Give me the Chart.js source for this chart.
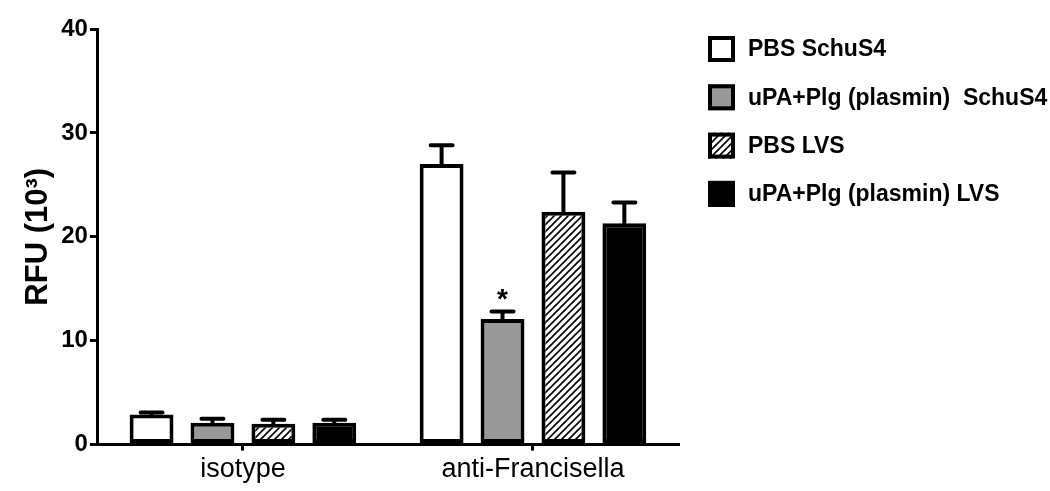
<!DOCTYPE html>
<html>
<head>
<meta charset="utf-8">
<script src="https://cdn.jsdelivr.net/npm/chart.js@4.4.0/dist/chart.umd.min.js"></script>
<style>
  html, body { margin: 0; padding: 0; background: #fff; }
  #wrap { width: 1050px; height: 491px; }
</style>
</head>
<body>
<div id="wrap"><canvas id="canvas"></canvas></div>
<script>
// data (RFU x 10^3)
const categories = ['isotype', 'anti-Francisella'];
const seriesNames = ['PBS SchuS4', 'uPA+Plg (plasmin)  SchuS4', 'PBS LVS', 'uPA+Plg (plasmin) LVS'];
const pbsSchu = [2.9, 27.0];
const plasminSchu = [2.1, 12.1];
const pbsLvs = [2.0, 22.4];
const plasminLvs = [2.1, 21.3];
// upper error (SEM)
const pbsSchuErr = [0.2, 1.8];
const plasminSchuErr = [0.4, 0.7];
const pbsLvsErr = [0.4, 3.8];
const plasminLvsErr = [0.3, 2.0];
const plasminSchuMarks = ['', '*'];
const yTicks = [0, 10, 20, 30, 40];

const FONT = 'Arial, "Liberation Sans", sans-serif';

function hatch() {
    const c = document.createElement('canvas');
    c.width = 7; c.height = 7;
    const g = c.getContext('2d');
    g.fillStyle = '#fff';
    g.fillRect(0, 0, 7, 7);
    g.strokeStyle = '#000';
    g.lineWidth = 1.6;
    g.beginPath();
    g.moveTo(-1, 8); g.lineTo(8, -1);
    g.moveTo(-1, 1); g.lineTo(1, -1);
    g.moveTo(6, 8); g.lineTo(8, 6);
    g.stroke();
    return g.createPattern(c, 'repeat');
}

const errorBars = {
    id: 'errorBars',
    afterDatasetsDraw(chart) {
        const ctx = chart.ctx;
        const y = chart.scales.y;
        chart.data.datasets.forEach((ds, i) => {
            const meta = chart.getDatasetMeta(i);
            meta.data.forEach((bar, j) => {
                const top = y.getPixelForValue(ds.data[j] + ds.errors[j]);
                ctx.save();
                ctx.strokeStyle = '#000';
                ctx.lineWidth = 4;
                ctx.lineCap = 'round';
                ctx.beginPath();
                ctx.moveTo(bar.x, bar.y);
                ctx.lineTo(bar.x, top);
                ctx.moveTo(bar.x - 11, top);
                ctx.lineTo(bar.x + 11, top);
                ctx.stroke();
                if (ds.marks && ds.marks[j]) {
                    ctx.fillStyle = '#000';
                    ctx.font = 'bold 28px ' + FONT;
                    ctx.textAlign = 'center';
                    ctx.textBaseline = 'alphabetic';
                    ctx.fillText(ds.marks[j], bar.x, top - 4);
                }
                ctx.restore();
            });
        });
    }
};

const sideLegend = {
    id: 'sideLegend',
    afterDraw(chart) {
        const ctx = chart.ctx;
        const x0 = chart.chartArea.right + 30;
        chart.data.datasets.forEach((ds, i) => {
            const cy = chart.chartArea.top + 20 + i * 48.3;
            ctx.save();
            ctx.fillStyle = ds.backgroundColor;
            ctx.fillRect(x0, cy - 13, 27, 26);
            ctx.strokeStyle = '#000';
            ctx.lineWidth = 4;
            ctx.strokeRect(x0 + 2, cy - 11, 23, 22);
            ctx.fillStyle = '#000';
            ctx.font = 'bold 23px ' + FONT;
            ctx.textBaseline = 'middle';
            ctx.fillText(ds.label, x0 + 40, cy + 1);
            ctx.restore();
        });
    }
};

const ctx = document.getElementById('canvas').getContext('2d');
const myChart = new Chart(ctx, {
    type: 'bar',
    data: {
        labels: categories,
        datasets: [
            { label: seriesNames[0], data: pbsSchu, errors: pbsSchuErr, backgroundColor: '#ffffff' },
            { label: seriesNames[1], data: plasminSchu, errors: plasminSchuErr, marks: plasminSchuMarks, backgroundColor: '#999999' },
            { label: seriesNames[2], data: pbsLvs, errors: pbsLvsErr, backgroundColor: hatch() },
            { label: seriesNames[3], data: plasminLvs, errors: plasminLvsErr, backgroundColor: '#000000' }
        ].map(d => Object.assign(d, {
            borderColor: '#000',
            borderWidth: 4,
            borderSkipped: false,
            categoryPercentage: 0.84,
            barPercentage: 0.72
        }))
    },
    options: {
        responsive: true,
        maintainAspectRatio: false,
        animation: false,
        layout: { padding: { left: 18, right: 372, top: 29, bottom: 2 } },
        plugins: {
            legend: { display: false },
            tooltip: { enabled: false }
        },
        scales: {
            x: {
                grid: { offset: false, drawOnChartArea: false, color: '#000', lineWidth: 3, tickLength: 6 },
                border: { color: '#000', width: 3 },
                ticks: { color: '#000', font: { family: FONT, size: 27 }, padding: 3 }
            },
            y: {
                min: 0,
                max: 40,
                afterBuildTicks: axis => { axis.ticks = yTicks.map(v => ({ value: v })); },
                grid: { drawOnChartArea: false, color: '#000', lineWidth: 3, tickLength: 8 },
                border: { color: '#000', width: 3 },
                ticks: { color: '#000', font: { family: FONT, size: 24, weight: 'bold' }, padding: 2 },
                title: {
                    display: true,
                    text: 'RFU (10³)',
                    color: '#000',
                    font: { family: FONT, size: 31, weight: 'bold' },
                    padding: { top: 2, bottom: 2 }
                }
            }
        }
    },
    plugins: [errorBars, sideLegend]
});
</script>
</body>
</html>
